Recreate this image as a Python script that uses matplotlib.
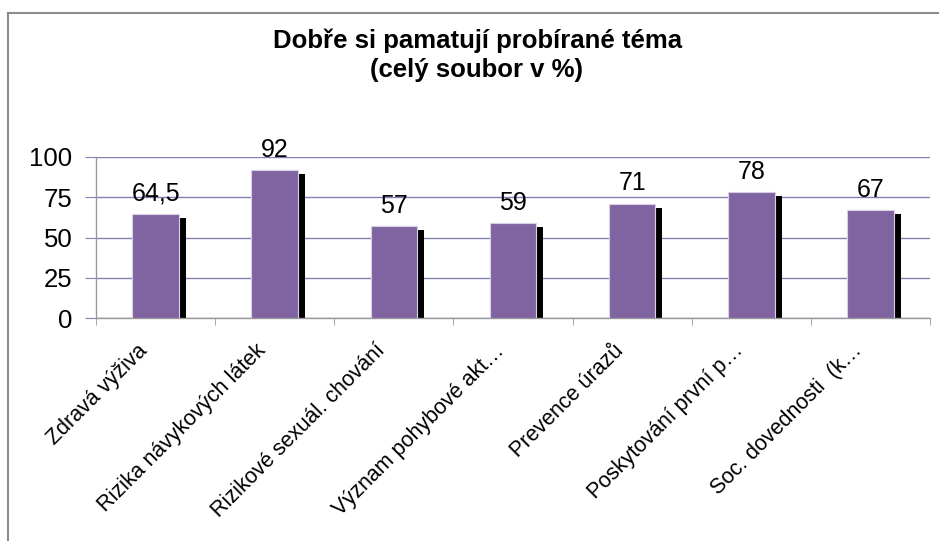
import matplotlib
matplotlib.use("Agg")
import matplotlib.pyplot as plt
import matplotlib.transforms as mtransforms
from matplotlib.lines import Line2D

categories = [
    "Zdravá výživa",
    "Rizika návykových látek",
    "Rizikové sexuál. chování",
    "Význam pohybové akt…",
    "Prevence úrazů",
    "Poskytování první p…",
    "Soc. dovednosti  (k…",
]
values = [64.5, 92, 57, 59, 71, 78, 67]
yticks = [0, 25, 50, 75, 100]
title_line1 = "Dobře si pamatují probírané téma"
title_line2 = "(celý soubor v %)"

plt.rcParams['font.family'] = ['Liberation Sans', 'DejaVu Sans']

W, H = 939, 541
fig = plt.figure(figsize=(W / 100, H / 100), dpi=100)
ax = fig.add_axes([96 / W, 1 - 318 / H, (930 - 96) / W, (318 - 157) / H])

x = list(range(len(categories)))
bw = 0.39
purple = '#8064A2'

shadow_tr = ax.transData + mtransforms.ScaledTranslation(7 / 100, -4 / 100, fig.dpi_scale_trans)
ax.bar(x, values, width=bw, color='black', transform=shadow_tr, zorder=2)
ax.bar(x, values, width=bw, color=purple, edgecolor='#d9cfe6', linewidth=0.8, zorder=3)

for xi, v in zip(x, values):
    lab = f"{v:g}".replace('.', ',')
    ax.annotate(lab, (xi, v), xytext=(0, 6), textcoords='offset points',
                ha='center', va='bottom', fontsize=18, color='black', zorder=4)

ax.set_xlim(-0.5, len(categories) - 0.5)
ax.set_ylim(0, 100)
ax.set_yticks(yticks)
ax.set_yticklabels([str(t) for t in yticks])
ax.yaxis.grid(True, color='#8282B2', linewidth=1.0, zorder=0)
ax.set_axisbelow(True)

ax.set_xticks(x)
ax.set_xticklabels(categories, rotation=45, ha='right', rotation_mode='anchor', fontsize=15.5)
ax.set_xticks([i - 0.5 for i in range(len(categories) + 1)], minor=True)
ax.tick_params(axis='x', which='major', length=0, pad=16)
ax.tick_params(axis='x', which='minor', length=5, color='#999999', direction='out')
ax.tick_params(axis='y', length=8, color='#8282B2', labelsize=18.5, pad=9)

shift = mtransforms.ScaledTranslation(-19 / 100, 0, fig.dpi_scale_trans)
for lbl in ax.get_xticklabels():
    lbl.set_transform(lbl.get_transform() + shift)

for s in ['top', 'right']:
    ax.spines[s].set_visible(False)
for s in ['left', 'bottom']:
    ax.spines[s].set_color('#999999')
    ax.spines[s].set_linewidth(1.0)

fig.text(0.509, 1 - 48 / H, title_line1, ha='center', va='baseline', fontsize=18.5, fontweight='bold')
fig.text(0.507, 1 - 77 / H, title_line2, ha='center', va='baseline', fontsize=18.5, fontweight='bold')

# chart frame (top and left edges visible)
fig.add_artist(Line2D([8 / W, 1.0], [1 - 13 / H, 1 - 13 / H], transform=fig.transFigure,
                      color='#8c8c8c', linewidth=1.5))
fig.add_artist(Line2D([8 / W, 8 / W], [0.0, 1 - 13 / H], transform=fig.transFigure,
                      color='#8c8c8c', linewidth=1.5))

fig.savefig('out.png', dpi=100)
